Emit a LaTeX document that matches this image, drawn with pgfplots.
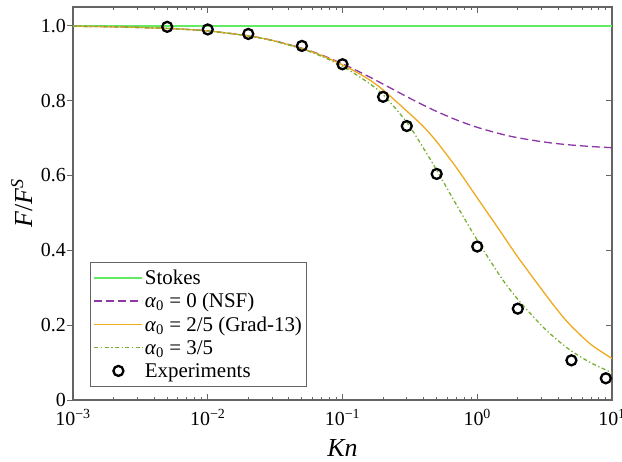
\documentclass[border=0pt]{standalone}
\usepackage{fontspec}
\setmainfont{Liberation Serif}
\usepackage{pgfplots}
\pgfplotsset{compat=1.18}
\usepackage{pgfplotstable}

\definecolor{axisgray}{RGB}{100,100,100}
\definecolor{stokescol}{RGB}{100,235,100}
\definecolor{nsfcol}{RGB}{140,55,165}
\definecolor{gradcol}{RGB}{240,170,30}
\definecolor{thirdcol}{RGB}{120,175,50}

\pgfplotsset{
  drag line legend/.style={legend image code/.code={\draw[##1] (0bp,0bp) -- (48bp,0bp);}},
  drag mark legend/.style={legend image code/.code={\draw[##1] plot coordinates {(24bp,0bp)};}},
}

% drag ratio F/F^S against Knudsen number
\pgfplotstableread{
Kn    nsf    grad   a35
0.001 0.9985 0.9985 0.9985
0.002 0.9971 0.9971 0.9971
0.005 0.9928 0.9928 0.9928
0.01  0.9860 0.9860 0.9859
0.02  0.9731 0.9729 0.9727
0.03  0.9612 0.9608 0.9603
0.05  0.9400 0.9392 0.9380
0.07  0.9216 0.9204 0.9182
0.1   0.8982 0.8955 0.8915
0.15  0.8676 0.8610 0.8515
0.2   0.8441 0.8285 0.8160
0.3   0.8104 0.7720 0.7420
0.4   0.7875 0.7300 0.6720
0.5   0.7709 0.6900 0.6140
0.7   0.7484 0.6210 0.5220
1     0.7285 0.5400 0.4270
1.5   0.7106 0.4480 0.3280
2     0.7007 0.3820 0.2690
3     0.6902 0.2960 0.1990
4     0.6846 0.2370 0.1580
5     0.6812 0.1970 0.1310
7     0.6772 0.1480 0.0990
10    0.6741 0.1110 0.0730
}\curves

\pgfplotstableread{
Kn    F
0.005 0.997
0.01  0.990
0.02  0.978
0.05  0.946
0.1   0.897
0.2   0.810
0.3   0.732
0.5   0.604
1     0.410
2     0.244
5     0.106
9     0.058
}\expdata

\begin{document}
\begin{tikzpicture}
% left-hand ticks (outward) with their labels
\begin{axis}[
  at={(0bp,0bp)}, anchor=south west,
  scale only axis, width=539bp, height=393bp,
  xmode=log, xmin=1e-3, xmax=1e1, ymin=0, ymax=1.05,
  tick style={color=axisgray, line width=0.9bp},
  axis line style={draw=none},
  xmajorticks=false, xminorticks=false,
  ytick={0,0.2,0.4,0.6,0.8,1.0},
  yticklabels={0,0.2,0.4,0.6,0.8,1.0},
  ytick pos=left, tick align=outside,
  major tick length=6bp,
  yticklabel style={font=\fontsize{20}{24}\selectfont, inner sep=0bp, xshift=-1bp},
]
\end{axis}
% main frame with curves
\begin{axis}[
  at={(0bp,0bp)}, anchor=south west,
  scale only axis, width=539bp, height=393bp,
  xmode=log, xmin=1e-3, xmax=1e1, ymin=0, ymax=1.05,
  tick style={color=axisgray, line width=0.9bp},
  axis line style={color=axisgray, line width=1.3bp},
  xtick={1e-3,1e-2,1e-1,1e0,1e1},
  xticklabels={10\textsuperscript{−3},10\textsuperscript{−2},10\textsuperscript{−1},10\textsuperscript{0},10\textsuperscript{1}},
  xtick pos=both, tick align=inside,
  major tick length=6bp, minor tick length=3.5bp,
  ytick={0,0.2,0.4,0.6,0.8,1.0}, yticklabels={},
  ytick pos=right,
  xticklabel style={font=\fontsize{20}{24}\selectfont, inner sep=0bp, yshift=-9bp},
  xlabel={\textit{Kn}},
  ylabel={\textit{F}/\textit{F}\textsuperscript{\textit{S}}},
  xlabel style={font=\fontsize{26}{30}\selectfont, at={(axis description cs:0.5,-0.122)}, anchor=center},
  ylabel style={font=\fontsize{26}{30}\selectfont, at={(axis description cs:-0.095,0.5)}, anchor=center},
  legend cell align=left,
  legend style={
    at={(axis description cs:0.0315,0.033)}, anchor=south west,
    draw=axisgray, line width=0.9bp, fill=white,
    font=\fontsize{21}{23}\selectfont,
    inner xsep=3bp, inner ysep=4bp, row sep=0bp, column sep=0bp,
    nodes={inner xsep=1.5bp, inner ysep=1.5bp, text height=17bp, text depth=3.3bp},
  },
  drag line legend,
]
\addplot[stokescol, line width=2bp] coordinates {(1e-3,1) (1e1,1)};
\addlegendentry{Stokes}
\addplot[nsfcol, line width=1.3bp, dash pattern=on 8bp off 4bp, smooth] table[x=Kn, y=nsf] {\curves};
\addlegendentry{\textit{α}\textsubscript{0} = 0 (NSF)}
\addplot[gradcol, line width=1.3bp, smooth] table[x=Kn, y=grad] {\curves};
\addlegendentry{\textit{α}\textsubscript{0} = 2/5 (Grad-13)\hspace{7bp}}
\addplot[thirdcol, line width=1.3bp, dash pattern=on 4bp off 2.5bp on 1.3bp off 2.5bp, smooth] table[x=Kn, y=a35] {\curves};
\addlegendentry{\textit{α}\textsubscript{0} = 3/5}
\addplot[only marks, mark=o, mark size=5bp, mark options={line width=2.3bp, draw=black}, drag mark legend]
  table[x=Kn, y=F] {\expdata};
\addlegendentry{Experiments}
\end{axis}
\pgfresetboundingbox
\useasboundingbox (-73bp,-62bp) rectangle (549bp,400bp);
\end{tikzpicture}
\end{document}
